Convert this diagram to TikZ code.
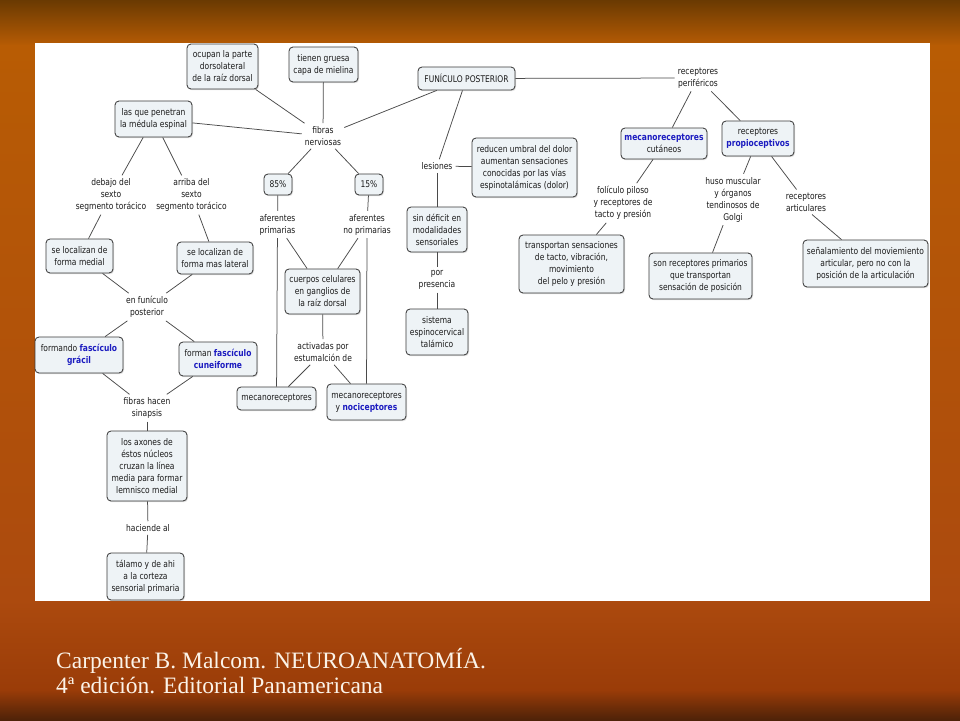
\documentclass[tikz,border=0pt]{standalone}
\usepackage{fontspec}
\setmainfont{Liberation Serif}
\newfontfamily\mapfont[FakeStretch=0.82]{DejaVu Sans}
\usetikzlibrary{shadows}
\definecolor{boxfill}{HTML}{EEF3F6}
\definecolor{boxline}{HTML}{3A3A3A}
\definecolor{linkc}{HTML}{4A4A4A}
\definecolor{bluet}{HTML}{1C1CC0}
\definecolor{textc}{HTML}{1A1A1A}
\definecolor{citec}{HTML}{FBF3E8}
\definecolor{bgA}{HTML}{6A3A02}
\definecolor{bgB}{HTML}{B85C04}
\definecolor{bgC}{HTML}{AC4A0E}
\definecolor{bgD}{HTML}{9A3C08}
\definecolor{bgE}{HTML}{4E2208}
\newcommand\blu[1]{\textcolor{bluet}{\bfseries #1}}
\begin{document}
\begin{tikzpicture}[x=1pt,y=-1pt,
  mapfnt/.style={font=\mapfont\fontsize{9.2}{12}\selectfont},
  box/.style={mapfnt, draw=boxline, line width=0.85pt, fill=boxfill, rounded corners=4pt,
    align=center, inner sep=1pt, text=textc,
    drop shadow={opacity=0.25, shadow xshift=1pt, shadow yshift=-1.2pt}},
  lbl/.style={mapfnt, align=center, inner sep=3pt, text=textc},
  link/.style={draw=linkc, line width=0.75pt},
  cite/.style={anchor=base west, text=citec, inner sep=0pt, font=\fontsize{23.5}{28}\selectfont}]
\useasboundingbox (0,0) rectangle (960,720);
% background
\fill[top color=bgA, bottom color=bgB] (0,0) rectangle (960,46);
\fill[top color=bgB, bottom color=bgC] (0,45) rectangle (960,601);
\fill[top color=bgC, bottom color=bgD] (0,600) rectangle (960,691);
\fill[top color=bgD, bottom color=bgE] (0,690) rectangle (960,720);
\fill[white] (35,43) rectangle (930,601);

% boxes
\node[box, minimum width=71pt, minimum height=45pt] (ocupan) at (222.5,66.5) {ocupan la parte\\dorsolateral\\de la raíz dorsal};
\node[box, minimum width=69pt, minimum height=35pt] (tienen) at (323.5,64.5) {tienen gruesa\\capa de mielina};
\node[box, minimum width=77pt, minimum height=36pt] (lasque) at (153.5,119) {las que penetran\\la médula espinal};
\node[box, minimum width=97pt, minimum height=23pt] (funiculo) at (466.5,78.5) {FUNÍCULO POSTERIOR};
\node[box, minimum width=28pt, minimum height=21pt] (p85) at (278,184.5) {85\%};
\node[box, minimum width=28pt, minimum height=21pt] (p15) at (369,184.5) {15\%};
\node[box, minimum width=67pt, minimum height=34pt] (medial) at (79.5,256) {se localizan de\\forma medial};
\node[box, minimum width=76pt, minimum height=32pt] (lateral) at (215,258) {se localizan de\\forma mas lateral};
\node[box, minimum width=88pt, minimum height=36pt] (gracil) at (79,355) {formando \blu{fascículo}\\\blu{grácil}};
\node[box, minimum width=78pt, minimum height=34pt] (cuneif) at (218,359) {forman \blu{fascículo}\\\blu{cuneiforme}};
\node[box, minimum width=80pt, minimum height=70pt] (axones) at (147,466) {los axones de\\éstos núcleos\\cruzan la línea\\media para formar\\lemnisco medial};
\node[box, minimum width=77pt, minimum height=47pt] (talamo) at (145.5,576.5) {tálamo y de ahi\\a la corteza\\sensorial primaria};
\node[box, minimum width=75pt, minimum height=45pt] (cuerpos) at (322.5,291.5) {cuerpos celulares\\en ganglios de\\la raíz dorsal};
\node[box, minimum width=79pt, minimum height=23pt] (mecano) at (276.5,398.5) {mecanoreceptores};
\node[box, minimum width=79pt, minimum height=36pt] (noci) at (366.5,402) {mecanoreceptores\\y \blu{nociceptores}};
\node[box, minimum width=105pt, minimum height=59pt] (reduce) at (524.5,167.5) {reducen umbral del dolor\\aumentan sensaciones\\conocidas por las vías\\espinotalámicas (dolor)};
\node[box, minimum width=60pt, minimum height=45pt] (sindef) at (437,229.5) {sin déficit en\\modalidades\\sensoriales};
\node[box, minimum width=62pt, minimum height=46pt] (sistema) at (437,332) {sistema\\espinocervical\\talámico};
\node[box, minimum width=86pt, minimum height=31pt] (mecacut) at (664,143.5) {\blu{mecanoreceptores}\\cutáneos};
\node[box, minimum width=72pt, minimum height=35pt] (propio) at (758,138.5) {receptores\\\blu{propioceptivos}};
\node[box, minimum width=105pt, minimum height=58pt] (transp) at (571.5,264) {transportan sensaciones\\de tacto, vibración,\\movimiento\\del pelo y presión};
\node[box, minimum width=103pt, minimum height=46pt] (sonrec) at (700.5,276) {son receptores primarios\\que transportan\\sensación de posición};
\node[box, minimum width=125pt, minimum height=47pt] (senal) at (865.5,263.5) {señalamiento del moviemiento\\articular, pero no con la\\posición de la articulación};

% labels
\node[lbl] (fibras) at (323,136) {fibras\\nerviosas};
\node[lbl] (debajo) at (111,195) {debajo del\\sexto\\segmento torácico};
\node[lbl] (arriba) at (191.5,195) {arriba del\\sexto\\segmento torácico};
\node[lbl] (afprim) at (277.5,224.5) {aferentes\\primarias};
\node[lbl] (afnop) at (367,224.5) {aferentes\\no primarias};
\node[lbl] (enfun) at (147,307) {en funículo\\posterior};
\node[lbl] (sinapsis) at (147,408) {fibras hacen\\sinapsis};
\node[lbl] (haciende) at (148,528) {haciende al};
\node[lbl] (activ) at (323,352) {activadas por\\estumalción de};
\node[lbl] (lesiones) at (437,166) {lesiones};
\node[lbl] (porpres) at (437,280) {por\\presencia};
\node[lbl] (recper) at (698,78) {receptores\\periféricos};
\node[lbl] (foliculo) at (623,203) {folículo piloso\\y receptores de\\tacto y presión};
\node[lbl] (huso) at (733,199.5) {huso muscular\\y órganos\\tendinosos de\\Golgi};
\node[lbl] (artic) at (806,202) {receptores\\articulares};

% links
\draw[link] (ocupan) -- (fibras);
\draw[link] (tienen) -- (fibras);
\draw[link] (lasque) -- (fibras);
\draw[link] (funiculo) -- (fibras);
\draw[link] (fibras) -- (p85);
\draw[link] (fibras) -- (p15);
\draw[link] (p85) -- (afprim);
\draw[link] (p15) -- (afnop);
\draw[link] (afprim) -- (cuerpos);
\draw[link] (afnop) -- (cuerpos);
\draw[link] (afprim) -- (mecano);
\draw[link] (afnop) -- (noci);
\draw[link] (cuerpos) -- (activ);
\draw[link] (activ) -- (mecano);
\draw[link] (activ) -- (noci);
\draw[link] (lasque) -- (debajo);
\draw[link] (lasque) -- (arriba);
\draw[link] (debajo) -- (medial);
\draw[link] (arriba) -- (lateral);
\draw[link] (medial) -- (enfun);
\draw[link] (lateral) -- (enfun);
\draw[link] (enfun) -- (gracil);
\draw[link] (enfun) -- (cuneif);
\draw[link] (gracil) -- (sinapsis);
\draw[link] (cuneif) -- (sinapsis);
\draw[link] (sinapsis) -- (axones);
\draw[link] (axones) -- (haciende);
\draw[link] (haciende) -- (talamo);
\draw[link] (funiculo) -- (lesiones);
\draw[link] (lesiones) -- (reduce);
\draw[link] (lesiones) -- (sindef);
\draw[link] (sindef) -- (porpres);
\draw[link] (porpres) -- (sistema);
\draw[link] (funiculo) -- (recper);
\draw[link] (recper) -- (mecacut);
\draw[link] (recper) -- (propio);
\draw[link] (mecacut) -- (foliculo);
\draw[link] (foliculo) -- (transp);
\draw[link] (propio) -- (huso);
\draw[link] (propio) -- (artic);
\draw[link] (huso) -- ([xshift=12pt]sonrec.north);
\draw[link] ([xshift=6pt]artic.south) -- ([xshift=-24pt]senal.north);

% citation
\node[cite] (cite1) at (56,668) {Carpenter B. Malcom. NEUROANATOMÍA.};
\node[cite] (cite2) at (56,693) {4ª edición. Editorial Panamericana};
\end{tikzpicture}
\end{document}
